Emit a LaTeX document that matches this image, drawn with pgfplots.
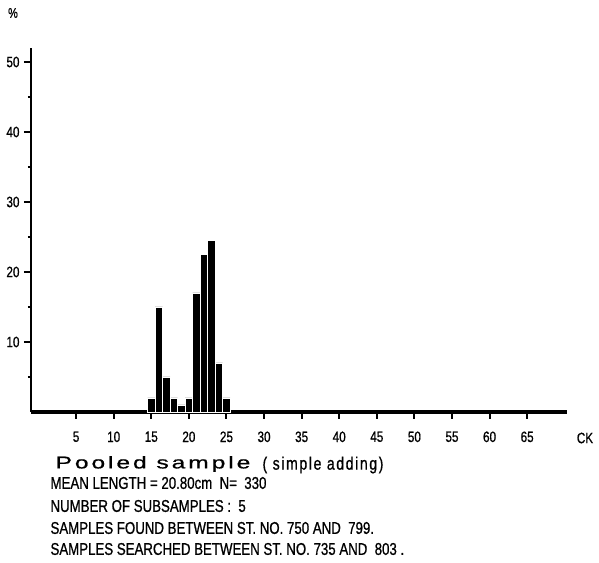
\documentclass[border=0pt]{standalone}
\usepackage{pgfplots}
\pgfplotsset{compat=1.18}
\usepackage{fontspec}
\setmainfont{Liberation Sans}[FakeStretch=0.78,FakeBold=0.8]
\newfontfamily\widefont{Liberation Sans}[FakeStretch=1.45,FakeBold=0.8]
\begin{document}
\begin{tikzpicture}[x=1pt,y=1pt]
\path[use as bounding box] (0,0) rectangle (599,562);
\begin{axis}[
  at={(31pt,150pt)}, anchor=south west,
  scale only axis, width=536pt, height=364pt,
  xmin=-1, xmax=70.3, ymin=0, ymax=52,
  axis x line=bottom, axis y line=left,
  x axis line style={-, line width=4pt},
  y axis line style={-, line width=2.5pt},
  ybar, bar width=1,
  xtick={5,10,...,65}, ytick={10,20,...,50}, minor ytick={5,15,...,45},
  tick align=outside,
  major tick length=7pt, minor tick length=3pt,
  tick style={black, line width=2pt},
  xticklabel style={font=\fontsize{15}{15}\selectfont, yshift=-9pt},
  yticklabel style={font=\fontsize{15}{15}\selectfont, xshift=-1pt},
  /pgf/number format/assume math mode=true,
  clip=false,
]
\addplot[fill=black, draw=white, line width=0.5pt, bar shift=0] coordinates {
(15,2)(16,15)(17,5)(18,2)(19,1)(20,2)(21,17)(22,22.5)(23,24.5)(24,7)(25,2)};
\end{axis}
\node[font=\fontsize{14}{14}\selectfont] at (13,549) {\%};
\node[font=\fontsize{15}{15}\selectfont] at (585,124) {CK};
\node[anchor=west, font=\widefont\fontsize{17}{17}\selectfont\addfontfeature{LetterSpace=17}] at (52,98) {Pooled\ sample};
\node[anchor=west, font=\fontsize{18}{18}\selectfont\addfontfeature{LetterSpace=9}] at (259,97) {( simple adding)};
\node[anchor=west, font=\fontsize{17}{17}\selectfont] at (47,79) {MEAN LENGTH = 20.80cm\ \ N=\ \ 330};
\node[anchor=west, font=\fontsize{17}{17}\selectfont] at (47,56) {NUMBER OF SUBSAMPLES :\ \ 5};
\node[anchor=west, font=\fontsize{17}{17}\selectfont] at (47,34) {SAMPLES FOUND BETWEEN ST. NO. 750 AND\ \ 799.};
\node[anchor=west, font=\fontsize{17}{17}\selectfont] at (47,13) {SAMPLES SEARCHED BETWEEN ST. NO. 735 AND\ \ 803 .};
\end{tikzpicture}
\end{document}
